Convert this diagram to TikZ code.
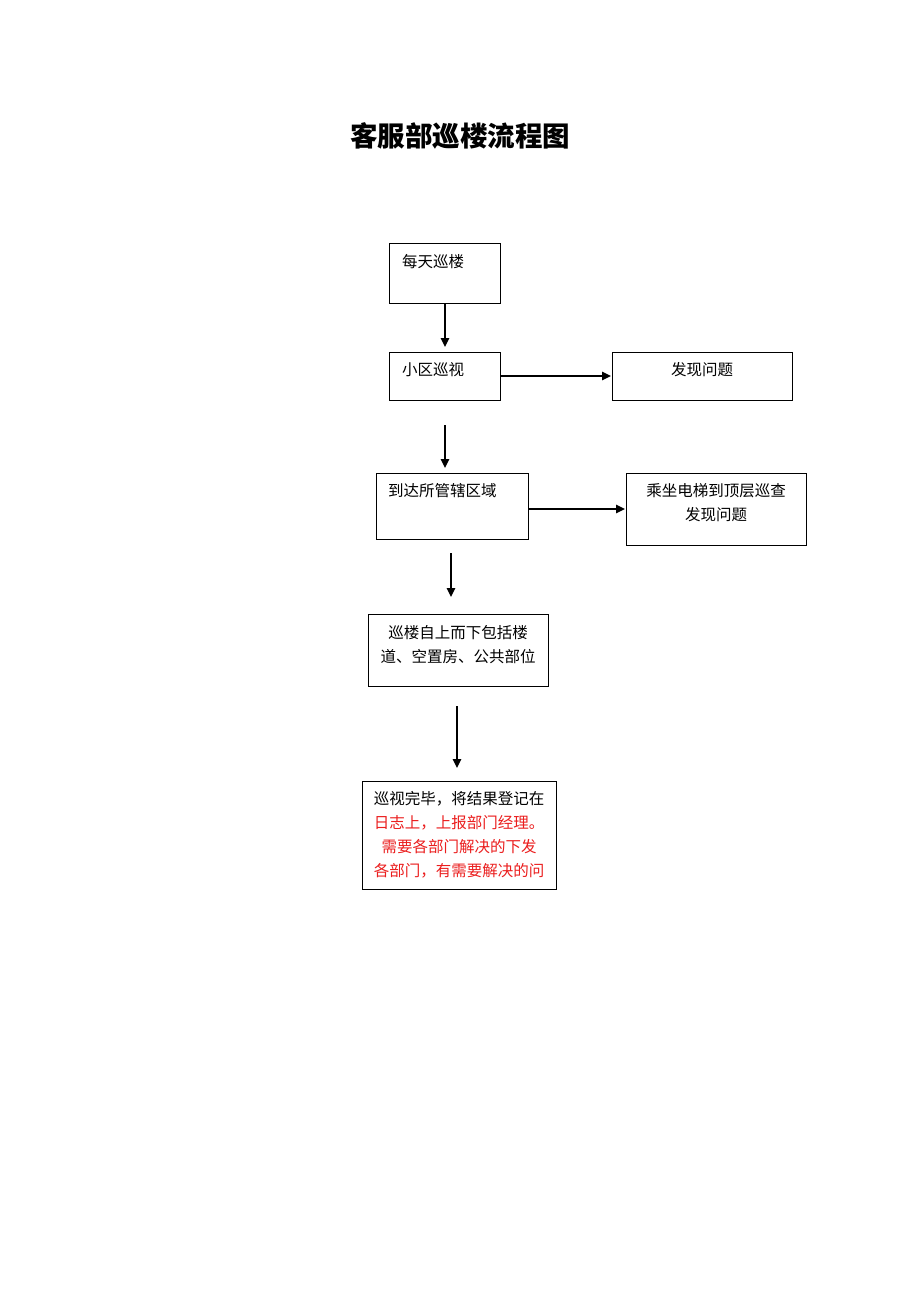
\documentclass[tikz,border=0pt]{standalone}
\usepackage{fontspec}
\newfontfamily\cjk{Noto Sans CJK SC}
\usetikzlibrary{arrows.meta}
\definecolor{txtred}{RGB}{235,30,30}
\tikzset{
  box/.style={draw=black, line width=1pt, rectangle, inner sep=0pt, anchor=north west},
  txt/.style={font=\cjk\fontsize{15.5}{19}\selectfont, inner sep=0pt, text=black},
  conn/.style={line width=1.5pt, -{Triangle[length=9pt,width=8.5pt]}}
}
\begin{document}
\begin{tikzpicture}[x=1pt,y=-1pt]
\useasboundingbox (0,0) rectangle (920,1302);
\fill[white] (0,0) rectangle (920,1302);
% title
\node[font=\cjk\bfseries\fontsize{27.5}{32}\selectfont, inner sep=0pt] (title) at (460,136) {客服部巡楼流程图};
% boxes
\node[box, minimum width=111, minimum height=60] (b1) at (389,243) {};
\node[txt, anchor=west] (t1) at (402,262) {每天巡楼};
\node[box, minimum width=111, minimum height=48] (b2) at (389,352) {};
\node[txt, anchor=west] (t2) at (402,370) {小区巡视};
\node[box, minimum width=180, minimum height=48] (b3) at (612,352) {};
\node[txt] (t3) at (702,370) {发现问题};
\node[box, minimum width=152, minimum height=66] (b4) at (376,473) {};
\node[txt, anchor=west] (t4) at (388,491) {到达所管辖区域};
\node[box, minimum width=180, minimum height=72] (b5) at (626,473) {};
\node[txt] (t5a) at (716,491) {乘坐电梯到顶层巡查};
\node[txt] (t5b) at (716,515) {发现问题};
\node[box, minimum width=180, minimum height=72] (b6) at (368,614) {};
\node[txt] (t6a) at (458,633) {巡楼自上而下包括楼};
\node[txt] (t6b) at (458,657) {道、空置房、公共部位};
\node[box, minimum width=194, minimum height=108] (b7) at (362,781) {};
\node[txt] (t7a) at (459,799) {巡视完毕，将结果登记在};
\node[txt, text=txtred] (t7b) at (459,823) {日志上，上报部门经理。};
\node[txt, text=txtred] (t7c) at (459,847) {需要各部门解决的下发};
\node[txt, text=txtred] (t7d) at (459,871) {各部门，有需要解决的问};
% connectors
\coordinate (a1e) at (445,347);
\draw[conn] (b1.south -| a1e) -- (a1e);
\coordinate (a2e) at (611,376);
\draw[conn] (b2.east |- a2e) -- (a2e);
\coordinate (a3s) at (445,425);
\coordinate (a3e) at (445,468);
\draw[conn] (a3s) -- (a3e);
\coordinate (a4e) at (625,509);
\draw[conn] (b4.east |- a4e) -- (a4e);
\coordinate (a5s) at (451,553);
\coordinate (a5e) at (451,597);
\draw[conn] (a5s) -- (a5e);
\coordinate (a6s) at (457,706);
\coordinate (a6e) at (457,768);
\draw[conn] (a6s) -- (a6e);
\end{tikzpicture}
\end{document}
